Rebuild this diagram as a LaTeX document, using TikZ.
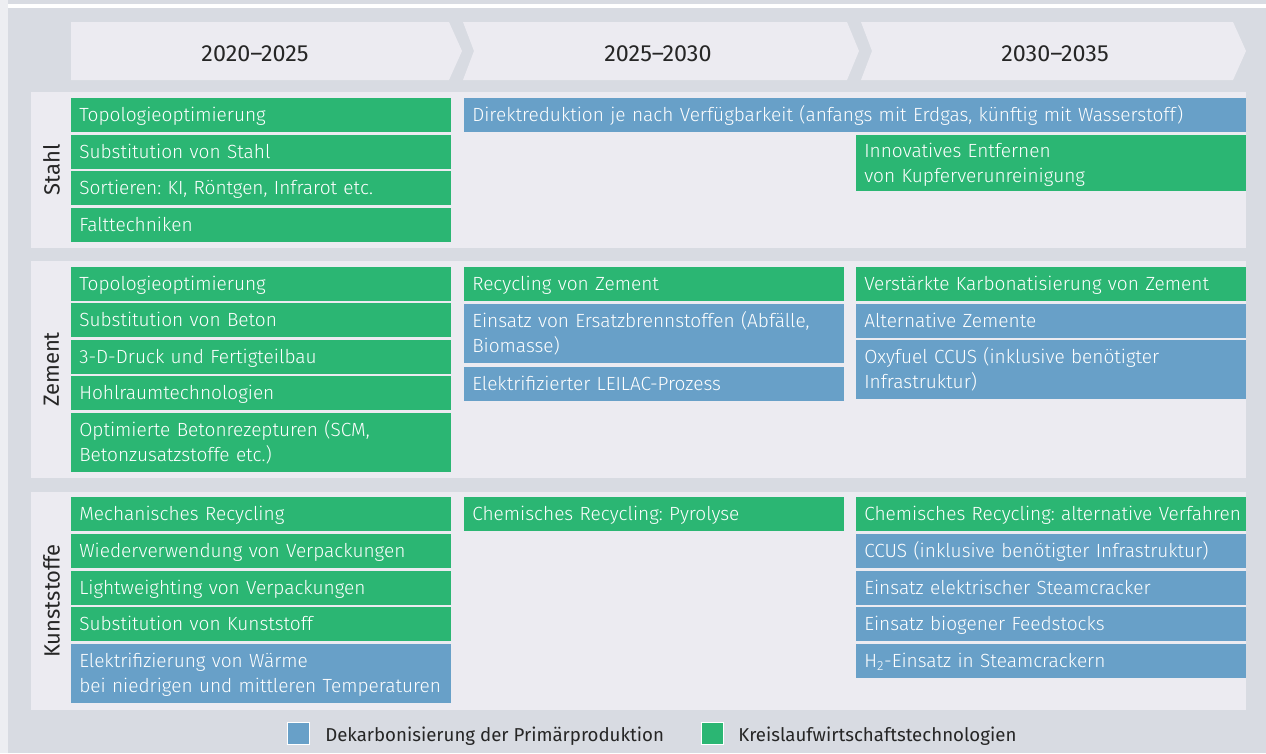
\documentclass[tikz,border=0pt]{standalone}
\usepackage{fontspec}
\setmainfont{Fira Sans}
\newfontfamily\lightfont{Fira Sans Light}
\frenchspacing

\definecolor{bggray}{HTML}{D8DBE2}
\definecolor{panel}{HTML}{ECEBF1}
\definecolor{leftstrip}{HTML}{EDEEF2}
\definecolor{kreis}{HTML}{2BB673}
\definecolor{dekarb}{HTML}{68A0C8}
\definecolor{ink}{HTML}{262626}

\begin{document}
\begin{tikzpicture}[x=0.75pt, y=-0.75pt]
	
	\tikzset{
		cellbox/.style={anchor=north west, inner sep=0pt, outer sep=0pt},
		celltext/.style={anchor=west, inner sep=0pt, align=left, text width=320pt,
			text=white, text height=10pt, text depth=0pt,
			font=\lightfont\fontsize{14.3}{18.75}\selectfont},
		kr/.style={cellbox, fill=kreis},
		dk/.style={cellbox, fill=dekarb},
		twoline/.style={text depth=18.75pt},
		period/.style={anchor=base, inner sep=0pt, text=ink, font=\fontsize{17.5}{21}\selectfont},
		sector/.style={rotate=90, inner sep=0pt, text=ink, font=\fontsize{16.5}{20}\selectfont},
		legbox/.style={draw=white, line width=0.75pt, minimum size=16.5pt, inner sep=0pt},
		legtext/.style={anchor=base west, inner sep=0pt, text=ink, font=\fontsize{14}{18}\selectfont}
	}
	
	% ---------------------------
	% Helper macro: one technology cell
	% (#1 text options, #2 style, #3 name, #4 x, #5 y, #6 width px, #7 height px, #8 text)
	% ---------------------------
	\newcommand{\techcell}[8][]{%
		\pgfmathsetlengthmacro{\cellw}{#6*0.75pt}%
		\pgfmathsetlengthmacro{\cellh}{#7*0.75pt}%
		\node[#2, minimum width=\cellw, minimum height=\cellh] (#3) at (#4,#5) {};
		\node[celltext, #1] (#3-t) at ([xshift=6pt]#3.west) {#8};
	}
	
	\useasboundingbox (0,0) rectangle (1266,753);
	
	% background
	\fill[bggray] (0,0) rectangle (1266,753);
	\fill[leftstrip] (0,0) rectangle (8,753);
	\fill[white] (8,4) rectangle (1266,8);
	
	% ---------------------------
	% Time line (chevrons)
	% ---------------------------
	\fill[panel] (71,22) -- (449,22) -- (462,51) -- (449,80) -- (71,80) -- cycle;
	\fill[panel] (463,22) -- (847,22) -- (859,51) -- (847,80) -- (463,80) -- (474,51) -- cycle;
	\fill[panel] (861,22) -- (1233,22) -- (1246,51) -- (1233,80) -- (861,80) -- (872,51) -- cycle;
	\node[period] (p1) at (255,61) {2020–2025};
	\node[period] (p2) at (658,61) {2025–2030};
	\node[period] (p3) at (1055,61) {2030–2035};
	
	% panels
	\fill[panel] (31,92) rectangle (1246,248);
	\fill[panel] (31,261) rectangle (1246,478);
	\fill[panel] (31,492) rectangle (1246,710);
	\node[sector] (stahl) at (51.5,170) {Stahl};
	\node[sector] (zement) at (51.5,369.5) {Zement};
	\node[sector] (kunst) at (51.5,601) {Kunststoffe};
	
	% ---------------------------
	% Stahl
	% ---------------------------
	\techcell{kr}{st-1}{71}{98}{380}{34}{Topologieoptimierung}
	\techcell{kr}{st-2}{71}{135}{380}{34}{Substitution von Stahl}
	\techcell{kr}{st-3}{71}{171}{380}{34}{Sortieren: KI, Röntgen, Infrarot etc.}
	\techcell{kr}{st-4}{71}{208}{380}{34}{Falttechniken}
	\techcell[text width=600pt]{dk}{st-dr}{464}{98}{782}{34}{Direktreduktion je nach Verfügbarkeit (anfangs mit Erdgas, künftig mit Wasserstoff)}
	\techcell[twoline]{kr}{st-cu}{856}{135}{390}{56}{Innovatives Entfernen\\von Kupferverunreinigung}
	
	% ---------------------------
	% Zement
	% ---------------------------
	\techcell{kr}{ze-1}{71}{267}{380}{34}{Topologieoptimierung}
	\techcell{kr}{ze-2}{71}{303}{380}{34}{Substitution von Beton}
	\techcell{kr}{ze-3}{71}{340}{380}{34}{3-D-Druck und Fertigteilbau}
	\techcell{kr}{ze-4}{71}{376}{380}{34}{Hohlraumtechnologien}
	\techcell[twoline]{kr}{ze-5}{71}{413}{380}{59}{Optimierte Betonrezepturen (SCM,\\Betonzusatzstoffe etc.)}
	\techcell{kr}{ze-6}{464}{267}{380}{34}{Recycling von Zement}
	\techcell[twoline]{dk}{ze-7}{464}{304}{380}{59}{Einsatz von Ersatzbrennstoffen (Abfälle,\\Biomasse)}
	\techcell{dk}{ze-8}{464}{367}{380}{34}{Elektrifizierter LEILAC-Prozess}
	\techcell{kr}{ze-9}{856}{267}{390}{34}{Verstärkte Karbonatisierung von Zement}
	\techcell{dk}{ze-10}{856}{304}{390}{34}{Alternative Zemente}
	\techcell[twoline]{dk}{ze-11}{856}{340}{390}{59}{Oxyfuel CCUS (inklusive benötigter\\Infrastruktur)}
	
	% ---------------------------
	% Kunststoffe
	% ---------------------------
	\techcell{kr}{ku-1}{71}{497}{380}{34}{Mechanisches Recycling}
	\techcell{kr}{ku-2}{71}{534}{380}{34}{Wiederverwendung von Verpackungen}
	\techcell{kr}{ku-3}{71}{571}{380}{34}{Lightweighting von Verpackungen}
	\techcell{kr}{ku-4}{71}{607}{380}{34}{Substitution von Kunststoff}
	\techcell[twoline]{dk}{ku-5}{71}{644}{380}{59}{Elektrifizierung von Wärme\\bei niedrigen und mittleren Temperaturen}
	\techcell{kr}{ku-6}{464}{497}{380}{34}{Chemisches Recycling: Pyrolyse}
	\techcell{kr}{ku-7}{856}{497}{390}{34}{Chemisches Recycling: alternative Verfahren}
	\techcell{dk}{ku-8}{856}{534}{390}{34}{CCUS (inklusive benötigter Infrastruktur)}
	\techcell{dk}{ku-9}{856}{571}{390}{34}{Einsatz elektrischer Steamcracker}
	\techcell{dk}{ku-10}{856}{607}{390}{34}{Einsatz biogener Feedstocks}
	\techcell{dk}{ku-11}{856}{644}{390}{34}{H\textsubscript{2}-Einsatz in Steamcrackern}
	
	% ---------------------------
	% Legend
	% ---------------------------
	\node[legbox, fill=dekarb] (lg-dk) at (298.5,733.5) {};
	\node[legtext] (lg-dk-t) at (325,741.5) {Dekarbonisierung der Primärproduktion};
	\node[legbox, fill=kreis] (lg-kr) at (712.5,733.5) {};
	\node[legtext] (lg-kr-t) at (738,741.5) {Kreislaufwirtschaftstechnologien};
	
\end{tikzpicture}
\end{document}
